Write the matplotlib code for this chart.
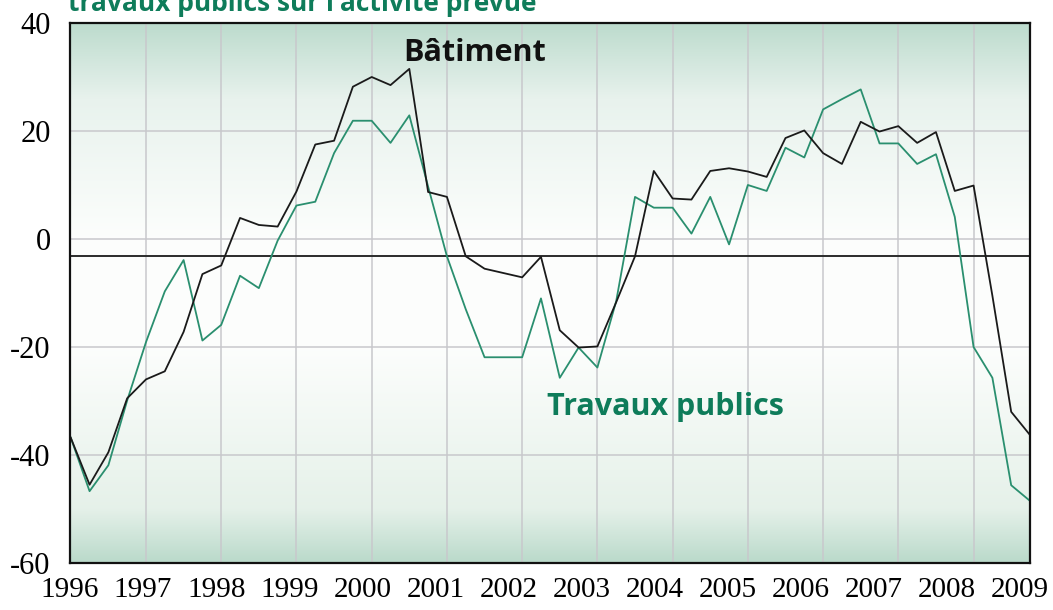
import matplotlib
matplotlib.use("Agg")
import matplotlib.pyplot as plt
import numpy as np

# quarterly balances of opinion, 1996Q1 .. 2008Q4
quarters = np.arange(1996, 2009, 0.25)
batiment = [-36.8, -45.5, -39.5, -29.5,
            -26.0, -24.5, -17.2, -6.5,
            -4.9, 3.9, 2.6, 2.3,
            8.8, 17.5, 18.2, 28.2,
            30.0, 28.5, 31.5, 8.7,
            7.8, -3.2, -5.5, -6.3,
            -7.1, -3.3, -16.9, -20.1,
            -19.9, -11.7, -3.2, 12.6,
            7.5, 7.3, 12.6, 13.1,
            12.5, 11.5, 18.7, 20.1,
            15.9, 13.9, 21.7, 19.9,
            20.9, 17.8, 19.8, 8.9,
            9.9, -10.5, -32.0, -36.3]
travaux_publics = [-36.8, -46.7, -41.9, -29.9,
                   -19.1, -9.7, -3.9, -18.8,
                   -15.9, -6.8, -9.1, -0.3,
                   6.2, 6.9, 15.9, 21.9,
                   21.9, 17.8, 22.9, 9.7,
                   -3.2, -13.0, -21.9, -21.9,
                   -21.9, -11.0, -25.7, -20.1,
                   -23.8, -11.5, 7.8, 5.8,
                   5.8, 1.0, 7.8, -1.0,
                   10.0, 8.9, 16.9, 15.1,
                   24.0, 25.9, 27.7, 17.7,
                   17.7, 13.9, 15.7, 4.1,
                   -20.0, -25.7, -45.6, -48.5]
moyenne = -3.2
year_labels = [str(y) for y in range(1996, 2010)]
grid_years = list(range(1997, 2009))
y_ticks = [-60, -40, -20, 0, 20, 40]

GREEN_TXT = "#0e7c5a"
GREEN_LINE = "#2a8f6f"
serif = "Liberation Serif"

fig = plt.figure(figsize=(10.53, 6.10), dpi=100)
ax = fig.add_axes([70/1053, 47/610, 960/1053, 540/610])

# vertical gradient background (green top and bottom, white middle)
f = np.linspace(0, 1, 300)
stops = [0.0, 0.10, 0.40, 0.60, 0.86, 1.0]
r = np.interp(f, stops, [0.73, 0.90, 0.99, 0.99, 0.91, 0.74])
g = np.interp(f, stops, [0.855, 0.945, 0.995, 0.995, 0.95, 0.86])
b = np.interp(f, stops, [0.795, 0.915, 0.99, 0.99, 0.93, 0.805])
grad = np.stack([r, g, b], axis=1)[::-1][:, None, :]
ax.imshow(grad, extent=[1996, 2008.75, -60, 40], aspect="auto", zorder=0)

ax.set_xlim(1996, 2008.75)
ax.set_ylim(-60, 40)

for yr in grid_years:
    ax.axvline(yr, color="#c8c8cc", lw=1.1, zorder=1)
for yv in y_ticks:
    ax.axhline(yv, color="#c8c8cc", lw=1.1, zorder=1)
ax.axhline(moyenne, color="#2b2b2b", lw=1.4, zorder=2)

ax.plot(quarters, travaux_publics, color=GREEN_LINE, lw=1.3, zorder=3)
ax.plot(quarters, batiment, color="#1a1a1a", lw=1.3, zorder=4)

ax.text(2001.37, 33.0, "Bâtiment", ha="center", va="baseline",
        fontsize=22, fontweight="bold", family="Open Sans", color="#111111", zorder=5)
ax.text(2003.9, -32.6, "Travaux publics", ha="center", va="baseline",
        fontsize=22, fontweight="bold", family="Open Sans", color=GREEN_TXT, zorder=5)

ax.set_yticks(y_ticks)
ax.set_yticklabels([str(v) for v in y_ticks], family=serif, fontsize=22)
label_pos = np.linspace(1995.99, 2008.62, len(year_labels))
ax.set_xticks(label_pos)
ax.set_xticklabels(year_labels, family=serif, fontsize=21)
ax.tick_params(axis="both", length=0)
ax.tick_params(axis="x", pad=10)
ax.tick_params(axis="y", pad=14)

for s in ax.spines.values():
    s.set_linewidth(1.6)
    s.set_color("#111111")
    s.set_zorder(6)

# title line cut off at the top edge, as in the source
fig.text(68/1053, 1 - 11/610, "travaux publics sur l'activité prévue",
         ha="left", va="baseline", fontsize=19, fontweight="bold",
         family="Open Sans", color=GREEN_TXT)

fig.savefig("out.png", dpi=100)
